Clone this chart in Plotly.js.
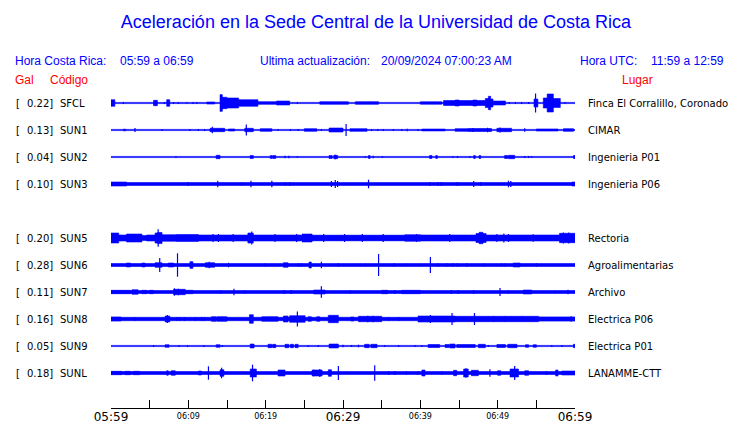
<!DOCTYPE html>
<html>
<head>
<meta charset="utf-8">
<script src="https://cdn.plot.ly/plotly-3.0.1.min.js"></script>
<style>
html,body{margin:0;padding:0;background:#fff;}
#chart{width:740px;height:423px;}
</style>
</head>
<body>
<div id="chart"></div>
<script>
// ---- Data (time in minutes after 05:59, half-amplitude in display px) ----
const codes = ['SFCL','SUN1','SUN2','SUN3','SUN5','SUN6','SUN7','SUN8','SUN9','SUNL'];
const galValues = ['0.22','0.13','0.04','0.10','0.20','0.28','0.11','0.16','0.05','0.18'];
const places = ['Finca El Corralillo, Coronado','CIMAR','Ingenieria P01','Ingenieria P06','Rectoria','Agroalimentarias','Archivo','Electrica P06','Electrica P01','LANAMME-CTT'];
const slots = [0,1,2,3,5,6,7,8,9,10];
const tickMinutes = [0,5,10,15,20,25,30,35,40,45,50,55,60];
const smallTickText = ['','','06:09','','06:19','','','','06:39','','06:49','',''];
const bigTickMinutes = [0,30,60];
const bigTickText = ['05:59','06:29','06:59'];

// segments: [start, end, halfAmplitude]; spikes: [time, halfAmplitude]
const sfclSeg = [[0,60,0.6],[0,0.5,3.3],[5.5,6.0,2.7],[7.2,7.6,3.3],[12.4,13.4,1.0],[14.1,14.4,8.3],[14.4,15.0,5.7],[15.0,16.5,5],[16.5,19,3.3],[19,21.4,1.3],[21.4,23.1,2],[27.0,30.7,1.3],[31.6,34.6,1.3],[40,42.8,1.2],[43,44.5,2.5],[44.5,45.0,3],[45.0,46.8,2.5],[46.8,47.3,3],[47.3,48.4,2.5],[48.4,48.8,4.5],[48.8,49.1,6.7],[49.1,49.4,4],[49.4,51,2],[54.7,55.2,4],[55.9,56.4,5],[56.4,57.2,9],[57.2,58.1,4.5]];
const sfclSpk = [[1.6,1.0],[6.9,1.0],[8.1,1.0],[8.7,1.0],[9.8,0.7],[10.6,1.0],[11.1,1.0],[14.2,8.5],[24.1,1.0],[51.5,1.0],[52.3,1],[53.1,1],[54.0,1],[54.9,9.5],[58.7,1.0]];

const sun1Seg = [[0,60,0.6],[1.6,1.9,0.8],[12.8,14.7,1.7],[15.2,16,1.0],[17.3,18.4,1.7],[19.3,20.8,1.3],[25,26.6,1.3],[28.2,30,2],[30.9,33.1,1.3],[40.2,43.2,0.9],[44.5,46.2,1.3],[46.2,49.2,1.5],[49.9,51.8,1.7],[55,57.8,1.0],[58.5,59.8,1.3]];
const sun1Spk = [[3.1,2],[6.6,1],[10.2,1],[11.3,1],[12.1,1],[13.1,3.3],[17.5,5.5],[21.6,1],[23.2,1],[24.2,1],[27.2,1],[30.4,6],[33.7,1],[34.5,1],[35.2,1],[36.5,1],[37.6,1],[38.3,1.2],[39.7,1],[46.8,2],[48.7,2.2],[50.3,2.5],[53.5,1.7]];

const sun2Seg = [[0,60,0.6],[13.6,14.1,1.7],[18.0,18.4,1.5],[20.6,20.8,1.5],[20.9,21.3,1.5],[28.2,28.6,1.5],[28.8,29.3,1.7],[33.3,33.5,1.5],[41.2,41.5,1.5],[42.0,42.2,1.5],[46.9,47.1,1.5],[47.6,47.8,1.5],[50.9,51.3,1.5],[51.4,52.2,1.7],[59.8,60,1.5]];
const sun2Spk = [[8.4,0.8],[22.5,1.2],[23.0,1.2],[24.1,0.8],[29.0,2.3],[32.9,0.8],[33.9,1.2],[35.1,0.8],[44.2,1],[44.8,1],[46.4,1],[53.5,1],[54.0,1],[54.4,0.8]];

const sun3Seg = [[0,60,1.5],[0,2,2],[59.6,60,2]];
const sun3Spk = [[10.0,2],[13.8,3.3],[16.9,1.8],[18.1,3.3],[20.8,3.3],[22.5,2],[23.1,2],[28.5,3],[29.0,4],[29.3,3],[33.3,4.3],[41.2,2],[42.3,2],[42.7,2],[44.8,2],[46.9,3],[47.8,2],[51.4,3.3],[51.7,3]];

const sun5Seg = [[0,60,2.5],[0,1.0,5],[1.0,2.0,3],[2.0,4.0,4],[4.6,5.7,3],[5.7,6.0,5],[6.0,6.6,5.5],[6.6,8.5,3.3],[8.5,11.3,3.5],[11.3,17.7,3],[17.7,18.4,5],[18.4,24.6,3],[24.7,26,4],[26,38.0,2.8],[38,40,3.3],[40,47.2,3],[47.2,47.6,4.5],[47.6,48.1,5.7],[48.1,48.5,4.5],[48.5,58,3],[58,60,4.7]];
const sun5Spk = [[6.1,8.7],[13.2,4],[13.9,4],[15.8,4],[18.2,6.5],[21.2,4],[24.0,4],[27.5,4],[30.2,4],[32.5,4],[35.2,4],[39.5,4],[43.8,4],[49.9,4],[50.8,4.5],[51.4,4],[54.6,3.8],[58.5,5.5],[59.2,5.5]];

const sun6Seg = [[0,60,1.5],[2.0,2.5,2],[4.0,4.4,2],[5.7,6.6,2.3],[7.4,8.1,2],[10.2,10.6,3.3],[12.2,13.4,2.3],[22.3,22.9,2.3],[25.6,25.9,3],[52,52.9,2]];
const sun6Spk = [[6.3,7],[8.6,11.7],[10.4,3.3],[12.7,3.3],[15.2,2.3],[19.9,1.5],[24.3,1.7],[24.7,1.7],[27.2,3.3],[29.4,1.7],[32.2,1.3],[32.9,1.3],[34.6,11],[36.6,1.7],[38.2,1.3],[41.3,8],[42.3,1.7],[43.4,1.7],[44.2,1.7],[44.8,1.7],[46.0,1.7],[48.2,1.5],[50.5,1.5],[50.9,1.5],[55.0,1.7]];

const sun7Seg = [[0,60,1.5],[0,2.5,1.7],[2.7,3.5,2.3],[4.0,4.6,1.7],[5.0,5.5,1.7],[8.1,9.6,2.7],[9.6,10.6,1.7],[26.2,27.7,2],[35,35.8,1.7],[37.6,40,1.7],[53.3,54.4,2]];
const sun7Spk = [[8.2,3.7],[8.7,3.3],[14.2,1.7],[15.9,3.3],[17.3,1.7],[22.4,2],[23.3,2],[27.2,5.7],[30.9,1.7],[35.5,1.7],[36.7,2],[44.0,2],[44.9,2],[46.9,2],[50.3,4],[51.4,1.7],[57.4,1.3],[59.1,2.3]];

const sun8Seg = [[0,60,1.7],[0,1.3,2],[7.0,7.6,3],[13.0,13.6,2.3],[13.7,15.0,2.3],[17.9,18.4,4.3],[19.5,21.6,2.3],[22.3,22.9,3],[23.1,25.1,3.3],[25.5,25.9,2.3],[26.6,27.0,2.3],[28.1,29.4,3.7],[31.0,31.4,2],[32.0,35.0,2.7],[39.7,44.5,3],[44.5,47.0,2.7],[47.0,55.3,2.7],[55.3,60,2]];
const sun8Spk = [[3.1,1.7],[7.3,4],[8.5,2],[8.9,2],[9.5,2],[10.9,2],[11.7,2],[12.1,2],[24.1,7.5],[33.2,3.3],[33.9,3.3],[35.9,2],[37.2,2],[41.3,4],[44.1,6],[47.0,6],[49.5,3],[51.0,3],[53.2,2.7],[59.5,2.7]];

const sun9Seg = [[0,60,0.6],[7.0,7.5,1.3],[13.6,14.1,1.3],[18.0,18.5,2],[20.3,20.8,1.7],[20.9,21.3,1.7],[22.5,23.0,1.7],[23.2,23.6,1.7],[23.8,24.2,1.7],[28.2,29.4,2],[32.8,33.4,1.7],[33.6,34.4,1.7],[41.0,42.5,1.5],[43.2,43.7,1.5],[43.8,44.5,2],[44.7,47.1,1.5],[47.5,48.4,1.7],[49.9,51.0,1.5],[51.3,52.5,1.7],[53.6,54.0,1.3],[54.6,55.0,1.3],[59.8,60,1.7]];
const sun9Spk = [[5.5,1],[8.8,1],[9.9,1],[12.0,1],[14.4,1],[25.5,1],[26.8,1],[30.0,1.3],[31.1,1],[32.0,1.3],[35.4,1],[37.2,1],[39.3,1],[40.2,1],[48.8,1],[57.0,1],[58.3,1]];

const sunlSeg = [[0,60,1.5],[0,1.4,1.7],[1.8,2.5,1.7],[2.9,3.7,1.7],[7.2,7.4,2.3],[7.8,8.3,2.3],[11.3,11.7,2],[14.1,14.6,3.3],[18.0,18.8,4],[21.6,22.5,3],[26.0,27.3,3],[28.1,28.5,3.3],[40.2,40.6,3],[44.3,44.7,2.7],[45.6,46.2,4],[46.6,47.5,2.7],[50.0,50.4,2.3],[51.6,52.7,4],[53.5,54.0,2.3],[57.5,57.8,3],[58.3,60,2]];
const sunlSpk = [[12.6,6.7],[14.3,5.3],[18.3,8.3],[26.2,3.3],[27.0,4],[29.4,7],[34.1,7.8],[35.9,2],[36.7,2],[38.2,1.7],[39.7,1.7],[42.8,1.7],[45.9,4.7],[49.0,3.7],[52.2,7],[56.3,1.7]];

const segments = [sfclSeg,sun1Seg,sun2Seg,sun3Seg,sun5Seg,sun6Seg,sun7Seg,sun8Seg,sun9Seg,sunlSeg];
const spikes = [sfclSpk,sun1Spk,sun2Spk,sun3Spk,sun5Spk,sun6Spk,sun7Spk,sun8Spk,sun9Spk,sunlSpk];

// ---- Layout constants ----
const PX = 27;              // display px per row slot
const BLUE = '#0000ff';
const W = 740, H = 423;
const plotL = 111, plotR = 575, plotT = 88, plotB = 408;
const rowTop = 103;         // page y of slot 0 centre
const yTop = (rowTop - plotT) / PX;      // units above slot 0
const yBot = (plotB - rowTop) / PX;      // units below slot 0
const px2paperX = p => (p - plotL) / (plotR - plotL);
const py2paperY = p => (plotB - p) / (plotB - plotT);

const traces = [];
codes.forEach((code, i) => {
  const c = -slots[i];
  const sx = [], sy = [];
  segments[i].forEach(([t0, t1, a]) => {
    const h = a / PX;
    sx.push(t0, t1, t1, t0, t0, null);
    sy.push(c + h, c + h, c - h, c - h, c + h, null);
  });
  traces.push({x: sx, y: sy, mode: 'lines', fill: 'toself', fillcolor: BLUE,
    line: {color: BLUE, width: 0.6}, hoverinfo: 'skip', showlegend: false});
  const kx = [], ky = [];
  spikes[i].forEach(([t, a]) => {
    const h = a / PX;
    kx.push(t, t, null);
    ky.push(c - h, c + h, null);
  });
  traces.push({x: kx, y: ky, mode: 'lines', line: {color: BLUE, width: 1.2},
    hoverinfo: 'skip', showlegend: false});
});
// invisible trace to activate second x axis (big tick labels)
traces.push({x: [0], y: [0], xaxis: 'x2', mode: 'markers', marker: {opacity: 0}, hoverinfo: 'skip', showlegend: false});

const annotations = [];
const dv = {family: 'DejaVu Sans', size: 10, color: '#000'};
codes.forEach((code, i) => {
  const y = -slots[i];
  annotations.push({xref: 'paper', yref: 'y', x: px2paperX(14), y: y, text: '[', showarrow: false, xanchor: 'left', yanchor: 'middle', font: dv});
  annotations.push({xref: 'paper', yref: 'y', x: px2paperX(55), y: y, text: galValues[i] + ']', showarrow: false, xanchor: 'right', yanchor: 'middle', font: dv});
  annotations.push({xref: 'paper', yref: 'y', x: px2paperX(58), y: y, text: code, showarrow: false, xanchor: 'left', yanchor: 'middle', font: dv});
  annotations.push({xref: 'paper', yref: 'y', x: px2paperX(586), y: y, text: places[i], showarrow: false, xanchor: 'left', yanchor: 'middle', font: dv});
});
const hdr = {family: 'Liberation Sans, Arial, sans-serif', size: 12, color: BLUE};
const red = {family: 'Liberation Sans, Arial, sans-serif', size: 12, color: '#ff0000'};
function addText(text, px, py, font) {
  annotations.push({xref: 'paper', yref: 'paper', x: px2paperX(px), y: py2paperY(py), text: text,
    showarrow: false, xanchor: 'left', yanchor: 'middle', font: font, borderpad: 0});
}
addText('Hora Costa Rica:', 14, 61, hdr);
addText('05:59 a 06:59', 119, 61, hdr);
addText('Ultima actualización:', 259, 61, hdr);
addText('20/09/2024 07:00:23 AM', 380, 61, hdr);
addText('Hora UTC:', 579, 61, hdr);
addText('11:59 a 12:59', 650, 61, hdr);
addText('Gal', 14, 80, red);
addText('Código', 49, 80, red);
addText('Lugar', 621, 80, red);

const layout = {
  width: W, height: H,
  margin: {l: plotL, r: W - plotR, t: plotT, b: H - plotB, pad: 0},
  paper_bgcolor: '#fff', plot_bgcolor: '#fff',
  showlegend: false,
  title: {text: 'Aceleración en la Sede Central de la Universidad de Costa Rica',
    font: {family: 'Liberation Sans, Arial, sans-serif', size: 18, color: BLUE},
    xref: 'container', yref: 'container', x: 376 / W, y: 1 - 22 / H, xanchor: 'center', yanchor: 'middle'},
  xaxis: {range: [0, 60], showgrid: false, zeroline: false, showline: true, linecolor: '#000', linewidth: 1,
    ticks: 'inside', ticklen: 8, tickwidth: 1, tickcolor: '#000', tickmode: 'array',
    tickvals: tickMinutes, ticktext: smallTickText,
    tickfont: {family: 'DejaVu Sans', size: 8, color: '#000'}, fixedrange: true},
  xaxis2: {range: [0, 60], overlaying: 'x', anchor: 'y', side: 'bottom', showgrid: false, zeroline: false,
    showline: false, ticks: '', tickmode: 'array', tickvals: bigTickMinutes, ticktext: bigTickText,
    tickfont: {family: 'DejaVu Sans', size: 12, color: '#000'}, fixedrange: true},
  yaxis: {range: [-yBot, yTop], showgrid: false, zeroline: false, showline: false, showticklabels: false,
    ticks: '', fixedrange: true},
  annotations: annotations
};

Plotly.newPlot('chart', traces, layout, {staticPlot: true, displayModeBar: false});
</script>
</body>
</html>
